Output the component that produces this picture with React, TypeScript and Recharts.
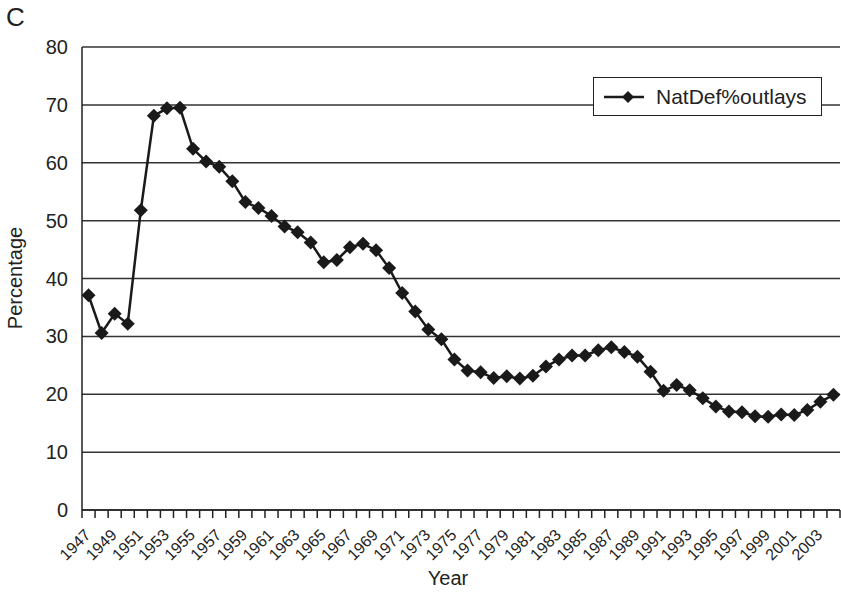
import React from "react";
import { LineChart, Line, XAxis, YAxis, CartesianGrid, Legend } from "recharts";

const FONT = "'Liberation Sans', Arial, sans-serif";

// one value per fiscal year, 1947..2004
const YEARS = [
  1947, 1948, 1949, 1950, 1951, 1952, 1953, 1954, 1955, 1956, 1957, 1958, 1959, 1960, 1961,
  1962, 1963, 1964, 1965, 1966, 1967, 1968, 1969, 1970, 1971, 1972, 1973, 1974, 1975, 1976,
  1977, 1978, 1979, 1980, 1981, 1982, 1983, 1984, 1985, 1986, 1987, 1988, 1989, 1990, 1991,
  1992, 1993, 1994, 1995, 1996, 1997, 1998, 1999, 2000, 2001, 2002, 2003, 2004,
];
const NATDEF_PCT = [
  37.1, 30.6, 33.9, 32.2, 51.8, 68.1, 69.4, 69.5, 62.4, 60.2, 59.3, 56.8, 53.2, 52.2, 50.8,
  49.0, 48.0, 46.2, 42.8, 43.2, 45.4, 46.0, 44.9, 41.8, 37.5, 34.3, 31.2, 29.5, 26.0, 24.1,
  23.8, 22.8, 23.1, 22.7, 23.2, 24.8, 26.0, 26.7, 26.7, 27.6, 28.1, 27.3, 26.5, 23.9, 20.6,
  21.6, 20.7, 19.3, 17.9, 17.0, 16.9, 16.2, 16.1, 16.5, 16.4, 17.3, 18.7, 19.9,
];
const Y_TICKS = [0, 10, 20, 30, 40, 50, 60, 70, 80];
// category boundaries, where the Excel-style tick marks sit
const BOUNDARIES = [...YEARS.map((y) => y - 0.5), YEARS[YEARS.length - 1] + 0.5];

const TICK_LEN = 8;

const data = YEARS.map((year, i) => ({ year, pct: NATDEF_PCT[i] }));

function Diamond({ cx, cy }: any) {
  if (cx == null || cy == null) return null;
  const r = 7;
  return (
    <polygon
      points={`${cx},${cy - r} ${cx + r},${cy} ${cx},${cy + r} ${cx - r},${cy}`}
      fill="#1a1a1a"
    />
  );
}

// ticks sit on category edges; every other one carries the label of the year to its right
function YearTick(props: any) {
  const { x, y, payload, index, visibleTicksCount } = props;
  const px = Number(x);
  const py = Number(y);
  const year = Number(payload.value) + 0.5;
  const mark = (
    <path d={`M${px},${py - TICK_LEN}L${px},${py}`} stroke="#222" strokeWidth={1.5} fill="none" />
  );
  if (year % 2 !== 1 || index >= visibleTicksCount - 1) return <g className="tick-mark">{mark}</g>;
  const half = (841 - 82 - 1) / YEARS.length / 2;
  const ax = px + half + 3;
  const ay = py + 18;
  return (
    <g className="tick-mark">
      {mark}
      <text
        x={ax}
        y={ay}
        textAnchor="end"
        transform={`rotate(-45, ${ax}, ${ay})`}
        fontSize={16}
        fontFamily={FONT}
        fill="#222"
        stroke="none"
      >
        {year}
      </text>
    </g>
  );
}

function LegendBox() {
  return (
    <div
      style={{
        width: 227, height: 37, border: "1.5px solid #222", background: "#fff",
        display: "flex", alignItems: "center", fontFamily: FONT, fontSize: 21, color: "#222",
      }}
    >
      <svg width={60} height={20} style={{ marginLeft: 8 }}>
        <line x1={2} y1={10} x2={42} y2={10} stroke="#1a1a1a" strokeWidth={2.5} />
        <polygon points="26,4 32,10 26,16 20,10" fill="#1a1a1a" />
      </svg>
      <span style={{ marginLeft: -6 }}>NatDef%outlays</span>
    </div>
  );
}

export default function App() {
  return (
    <div style={{ position: "absolute", left: 0, top: 0, width: 841, height: 592, background: "#fff" }}>
      <LineChart width={841} height={592} data={data} margin={{ top: 47, right: 1, left: 0, bottom: 0 }}>
        <CartesianGrid vertical={false} stroke="#333" strokeWidth={1.5} />
        <XAxis
          dataKey="year"
          type="number"
          domain={[1946.5, 2004.5]}
          ticks={BOUNDARIES}
          interval={0}
          height={82}
          tick={(p: any) => <YearTick {...p} />}
          tickSize={TICK_LEN}
          tickMargin={0}
          tickLine={false}
          axisLine={{ stroke: "#222", strokeWidth: 1.5 }}
        />
        <YAxis
          domain={[0, 80]}
          ticks={Y_TICKS}
          interval={0}
          width={82}
          tickLine={false}
          tickMargin={8}
          axisLine={{ stroke: "#222", strokeWidth: 1.5 }}
          tick={{ fontSize: 20, fontFamily: FONT, fill: "#222" }}
        />
        <Legend
          verticalAlign="middle"
          content={() => <LegendBox />}
          wrapperStyle={{ position: "absolute", left: 593, top: 77, width: 230 }}
        />
        <Line
          dataKey="pct"
          name="NatDef%outlays"
          stroke="#1a1a1a"
          strokeWidth={2.5}
          dot={<Diamond />}
          activeDot={false}
          isAnimationActive={false}
        />
      </LineChart>
      <div style={{ position: "absolute", left: 6, top: 2, fontFamily: FONT, fontSize: 26, color: "#222" }}>C</div>
      <div
        style={{
          position: "absolute", left: 15, top: 278, fontFamily: FONT, fontSize: 20, color: "#222",
          transform: "translate(-50%, -50%) rotate(-90deg)", whiteSpace: "nowrap",
        }}
      >
        Percentage
      </div>
      <div
        style={{
          position: "absolute", left: 448, top: 578, fontFamily: FONT, fontSize: 20, color: "#222",
          transform: "translate(-50%, -50%)",
        }}
      >
        Year
      </div>
    </div>
  );
}
